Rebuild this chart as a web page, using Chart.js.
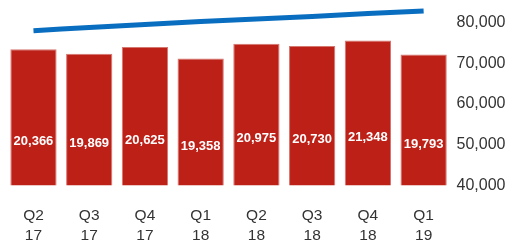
<!DOCTYPE html>
<html lang="en">
<head>
    <meta charset="UTF-8">
    <title>Quarterly chart</title>
    <script src="https://cdn.jsdelivr.net/npm/chart.js"></script>
    <style>
        html, body {
            margin: 0;
            padding: 0;
            background: #fff;
            overflow: hidden;
        }
        canvas { display: block; }
    </style>
</head>
<body>
    <canvas id="chart" width="508" height="244"></canvas>

    <script>
        const quarters = [["Q2", "17"], ["Q3", "17"], ["Q4", "17"], ["Q1", "18"], ["Q2", "18"], ["Q3", "18"], ["Q4", "18"], ["Q1", "19"]];
        const barValues = [20366, 19869, 20625, 19358, 20975, 20730, 21348, 19793];
        const lineValues = [78030, 78820, 79560, 80300, 80910, 81530, 82260, 82880];
        const rightTicks = [40000, 50000, 60000, 70000, 80000];

        const fontFamily = "'Liberation Sans', Arial, sans-serif";

        // white numbers in the middle of each bar
        const barLabels = {
            id: 'barLabels',
            afterDatasetsDraw(chart) {
                const ctx = chart.ctx;
                const meta = chart.getDatasetMeta(1);
                ctx.save();
                ctx.fillStyle = '#fff';
                ctx.font = "bold 13px " + fontFamily;
                ctx.textAlign = 'center';
                ctx.textBaseline = 'middle';
                meta.data.forEach((bar, i) => {
                    const mid = (bar.y + bar.base) / 2;
                    ctx.fillText(barValues[i].toLocaleString('en-US'), bar.x, mid);
                });
                ctx.restore();
            }
        };

        new Chart(document.getElementById('chart'), {
            data: {
                labels: quarters,
                datasets: [
                    {
                        type: 'line',
                        data: lineValues,
                        yAxisID: 'y',
                        borderColor: '#0a6ec0',
                        borderWidth: 5,
                        pointRadius: 0,
                        tension: 0.3,
                        fill: false,
                        order: 0
                    },
                    {
                        type: 'bar',
                        data: barValues,
                        yAxisID: 'y1',
                        backgroundColor: '#bd2017',
                        borderColor: '#d4776f',
                        borderWidth: 1,
                        barPercentage: 0.83,
                        categoryPercentage: 1,
                        order: 1
                    }
                ]
            },
            options: {
                responsive: false,
                animation: false,
                layout: { padding: { left: 5.6, right: 0, top: 2.4, bottom: 0 } },
                plugins: {
                    legend: { display: false },
                    tooltip: { enabled: false }
                },
                scales: {
                    x: {
                        grid: { display: false, drawTicks: false },
                        border: { display: false },
                        afterFit: (axis) => { axis.height = 58.7; },
                        ticks: {
                            padding: 20,
                            color: '#333',
                            font: { family: fontFamily, size: 15.5, lineHeight: 1.3 },
                            maxRotation: 0
                        }
                    },
                    y: {
                        position: 'right',
                        min: 40000,
                        max: 85000,
                        grid: { display: false, drawTicks: false },
                        border: { display: false },
                        afterBuildTicks: (axis) => {
                            axis.ticks = rightTicks.map(v => ({ value: v }));
                        },
                        afterFit: (axis) => {
                            axis.width = 56.5;
                            axis.paddingTop = 0;
                            axis.paddingBottom = 0;
                        },
                        ticks: {
                            padding: 5,
                            color: '#333',
                            font: { family: fontFamily, size: 16 },
                            callback: (v) => v.toLocaleString('en-US')
                        }
                    },
                    y1: {
                        display: false,
                        position: 'left',
                        min: 5350,
                        max: 25550
                    }
                }
            },
            plugins: [barLabels]
        });
    </script>
</body>
</html>
